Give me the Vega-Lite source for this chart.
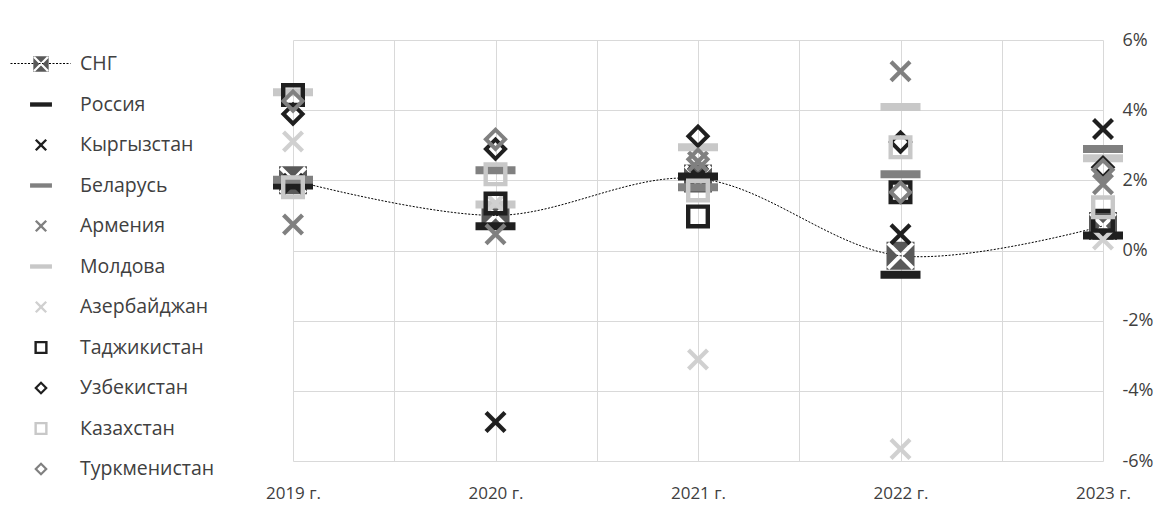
{
  "$schema": "https://vega.github.io/schema/vega-lite/v6.json",
  "width": 810,
  "height": 421,
  "autosize": {"type": "none"},
  "padding": {"left": 293, "top": 40, "right": 60, "bottom": 49},
  "background": "white",
  "config": {
    "view": {"stroke": null},
    "font": "Open Sans",
    "axis": {"gridColor": "#d9d9d9", "gridWidth": 1, "domain": false, "ticks": false, "labelFont": "Open Sans", "labelFontSize": 17, "labelColor": "#404040", "title": null}
  },
  "data": {"values": [
    {"series": "СНГ", "year": 2019, "value": 2.0},
    {"series": "СНГ", "year": 2020, "value": 1.0},
    {"series": "СНГ", "year": 2021, "value": 2.05},
    {"series": "СНГ", "year": 2022, "value": -0.15},
    {"series": "СНГ", "year": 2023, "value": 0.7},
    {"series": "Россия", "year": 2019, "value": 1.85},
    {"series": "Россия", "year": 2020, "value": 0.69},
    {"series": "Россия", "year": 2021, "value": 2.11},
    {"series": "Россия", "year": 2022, "value": -0.69},
    {"series": "Россия", "year": 2023, "value": 0.43},
    {"series": "Кыргызстан", "year": 2019, "value": 1.9},
    {"series": "Кыргызстан", "year": 2020, "value": -4.89},
    {"series": "Кыргызстан", "year": 2021, "value": 2.1},
    {"series": "Кыргызстан", "year": 2022, "value": 0.46},
    {"series": "Кыргызстан", "year": 2023, "value": 3.46},
    {"series": "Беларусь", "year": 2019, "value": 2.02},
    {"series": "Беларусь", "year": 2020, "value": 2.29},
    {"series": "Беларусь", "year": 2021, "value": 1.8},
    {"series": "Беларусь", "year": 2022, "value": 2.17},
    {"series": "Беларусь", "year": 2023, "value": 2.89},
    {"series": "Армения", "year": 2019, "value": 0.74},
    {"series": "Армения", "year": 2020, "value": 0.46},
    {"series": "Армения", "year": 2021, "value": 2.54},
    {"series": "Армения", "year": 2022, "value": 5.11},
    {"series": "Армения", "year": 2023, "value": 1.89},
    {"series": "Молдова", "year": 2019, "value": 4.51},
    {"series": "Молдова", "year": 2020, "value": 1.31},
    {"series": "Молдова", "year": 2021, "value": 2.94},
    {"series": "Молдова", "year": 2022, "value": 4.09},
    {"series": "Молдова", "year": 2023, "value": 2.63},
    {"series": "Азербайджан", "year": 2019, "value": 3.11},
    {"series": "Азербайджан", "year": 2020, "value": 1.35},
    {"series": "Азербайджан", "year": 2021, "value": -3.11},
    {"series": "Азербайджан", "year": 2022, "value": -5.66},
    {"series": "Азербайджан", "year": 2023, "value": 0.31},
    {"series": "Таджикистан", "year": 2019, "value": 4.43},
    {"series": "Таджикистан", "year": 2020, "value": 1.34},
    {"series": "Таджикистан", "year": 2021, "value": 0.97},
    {"series": "Таджикистан", "year": 2022, "value": 1.66},
    {"series": "Таджикистан", "year": 2023, "value": 0.85},
    {"series": "Узбекистан", "year": 2019, "value": 3.89},
    {"series": "Узбекистан", "year": 2020, "value": 2.89},
    {"series": "Узбекистан", "year": 2021, "value": 3.26},
    {"series": "Узбекистан", "year": 2022, "value": 3.09},
    {"series": "Узбекистан", "year": 2023, "value": 2.37},
    {"series": "Казахстан", "year": 2019, "value": 1.8},
    {"series": "Казахстан", "year": 2020, "value": 2.17},
    {"series": "Казахстан", "year": 2021, "value": 1.71},
    {"series": "Казахстан", "year": 2022, "value": 2.94},
    {"series": "Казахстан", "year": 2023, "value": 1.23},
    {"series": "Туркменистан", "year": 2019, "value": 4.26},
    {"series": "Туркменистан", "year": 2020, "value": 3.17},
    {"series": "Туркменистан", "year": 2021, "value": 2.6},
    {"series": "Туркменистан", "year": 2022, "value": 1.66},
    {"series": "Туркменистан", "year": 2023, "value": 2.3}
  ]},
  "encoding": {
    "x": {"field": "year", "type": "quantitative",
      "scale": {"domain": [2019, 2023], "nice": false, "zero": false},
      "axis": {"values": [2019, 2019.5, 2020, 2020.5, 2021, 2021.5, 2022, 2022.5, 2023], "labelExpr": "datum.value % 1 === 0 ? datum.value + ' г.' : ''", "labelPadding": 24, "labelFlush": false, "labelOverlap": false}},
    "y": {"field": "value", "type": "quantitative",
      "scale": {"domain": [-6, 6], "nice": false, "zero": false},
      "axis": {"orient": "right", "values": [-6, -4, -2, 0, 2, 4, 6], "labelExpr": "datum.value + '%'", "labelPadding": 19, "labelAlign": "left", "labelBaseline": "middle", "labelFontSize": 18}}
  },
  "layer": [
    {
      "transform": [{"filter": "datum.series === 'СНГ'"}],
      "mark": {"type": "line", "stroke": "#000000", "strokeWidth": 1, "interpolate": "catmull-rom"},
      "encoding": {
        "order": {"field": "year"},
        "strokeDash": {"field": "series", "type": "nominal",
          "scale": {"domain": ["СНГ"], "range": [[2, 1.5]]},
          "legend": {"title": null, "orient": "none", "legendX": -283, "legendY": -7, "padding": 0, "symbolType": "stroke", "symbolSize": 3600, "symbolStrokeWidth": 1, "symbolStrokeColor": "#000000", "labelExpr": "''", "zindex": 0}}
      }
    },
    {
      "mark": {"type": "point", "filled": true, "opacity": 1, "strokeWidth": 0, "size": 1600},
      "encoding": {
        "color": {"field": "series", "type": "nominal",
          "scale": {"domain": ["СНГ", "Россия", "Кыргызстан", "Беларусь", "Армения", "Молдова", "Азербайджан", "Таджикистан", "Узбекистан", "Казахстан", "Туркменистан"],
            "range": ["#595959", "#1f1f1f", "#1f1f1f", "#808080", "#808080", "#c8c8c8", "#d0d0d0", "#1f1f1f", "#1f1f1f", "#c8c8c8", "#808080"]},
          "legend": {"title": null, "orient": "none", "legendX": -263, "legendY": 13, "padding": 0, "rowPadding": 19.5, "labelOffset": 28, "symbolSize": 480, "symbolStrokeWidth": 0, "labelFont": "Open Sans", "labelFontSize": 19.5, "labelColor": "#404040", "labelLimit": 300, "zindex": 2}},
        "shape": {"field": "series", "type": "nominal",
          "scale": {"domain": ["СНГ", "Россия", "Кыргызстан", "Беларусь", "Армения", "Молдова", "Азербайджан", "Таджикистан", "Узбекистан", "Казахстан", "Туркменистан"],
            "range": [
              "M-0.7,-0.7H0.7V0.7H-0.7ZM0,-0.14L-0.56,-0.7L-0.7,-0.56L-0.14,0L-0.7,0.56L-0.56,0.7L0,0.14L0.56,0.7L0.7,0.56L0.14,0L0.7,-0.56L0.56,-0.7Z",
              "M-1,-0.2H1V0.2H-1Z",
              "M0,-0.15L0.4,-0.55L0.55,-0.4L0.15,0L0.55,0.4L0.4,0.55L0,0.15L-0.4,0.55L-0.55,0.4L-0.15,0L-0.55,-0.4L-0.4,-0.55Z",
              "M-1,-0.2H1V0.2H-1Z",
              "M0,-0.15L0.4,-0.55L0.55,-0.4L0.15,0L0.55,0.4L0.4,0.55L0,0.15L-0.4,0.55L-0.55,0.4L-0.15,0L-0.55,-0.4L-0.4,-0.55Z",
              "M-1,-0.2H1V0.2H-1Z",
              "M0,-0.15L0.4,-0.55L0.55,-0.4L0.15,0L0.55,0.4L0.4,0.55L0,0.15L-0.4,0.55L-0.55,0.4L-0.15,0L-0.55,-0.4L-0.4,-0.55Z",
              "M-0.6,-0.6H0.6V0.6H-0.6ZM-0.38,-0.38V0.38H0.38V-0.38Z",
              "M0,-0.62L0.62,0L0,0.62L-0.62,0ZM0,-0.34L-0.34,0L0,0.34L0.34,0Z",
              "M-0.6,-0.6H0.6V0.6H-0.6ZM-0.38,-0.38V0.38H0.38V-0.38Z",
              "M0,-0.62L0.62,0L0,0.62L-0.62,0ZM0,-0.34L-0.34,0L0,0.34L0.34,0Z"
            ]},
          "legend": null}
      }
    }
  ]
}
